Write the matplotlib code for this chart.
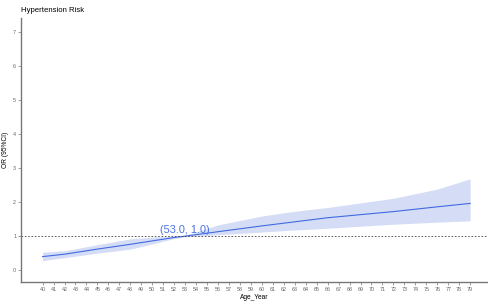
import numpy as np
import matplotlib
matplotlib.use("Agg")
import matplotlib.pyplot as plt

plt.rcParams['font.family'] = ['Liberation Sans', 'DejaVu Sans']

# values
age = [40, 42, 45, 48, 50, 52, 53, 56, 60, 63, 66, 72, 76, 79]
or_fit = [0.40, 0.47, 0.62, 0.76, 0.86, 0.96, 1.00, 1.13, 1.30, 1.42, 1.54, 1.72, 1.86, 1.96]
ci_low = [0.28, 0.37, 0.50, 0.62, 0.77, 0.93, 0.98, 1.04, 1.12, 1.18, 1.23, 1.35, 1.41, 1.45]
ci_high = [0.53, 0.57, 0.75, 0.92, 0.97, 1.00, 1.02, 1.33, 1.59, 1.73, 1.84, 2.11, 2.38, 2.68]
x_ticks = list(range(40, 80))
y_ticks = list(range(0, 8))
ref_point = (53.0, 1.0)

fig = plt.figure(figsize=(4.88, 3.05), dpi=100, facecolor="white")
ax = fig.add_axes([0.043, 0.076, 0.957, 0.864])

ax.fill_between(age, ci_low, ci_high, color="#d5ddf6", lw=0)
ax.plot(age, or_fit, color="#4169e1", lw=0.8)
ax.axhline(1, color="#444444", lw=0.6, ls=(0, (2, 2)))
ax.text(ref_point[0], ref_point[1] + 0.03, f"({ref_point[0]:.1f}, {ref_point[1]:.1f})",
        color="#4a72e0", fontsize=7.8, ha="center", va="bottom")

ax.set_xlim(38.03, 80.63)
ax.set_ylim(-0.34, 7.39)
ax.set_xticks(x_ticks)
ax.set_yticks(y_ticks)
ax.tick_params(labelsize=3.9, labelcolor="#666666", color="#777777",
               length=2, width=0.5, pad=1.5)
for s in ["top", "right"]:
    ax.spines[s].set_visible(False)
for s in ["left", "bottom"]:
    ax.spines[s].set_color("#777777")
    ax.spines[s].set_linewidth(1.0)

ax.set_xlabel("Age_Year", fontsize=4.8, labelpad=1.5)
ax.set_ylabel("OR (95%CI)", fontsize=4.8, labelpad=3)
fig.text(0.043, 0.955, "Hypertension Risk", fontsize=5.6, ha="left", va="bottom")

fig.savefig("out.png", dpi=100)
